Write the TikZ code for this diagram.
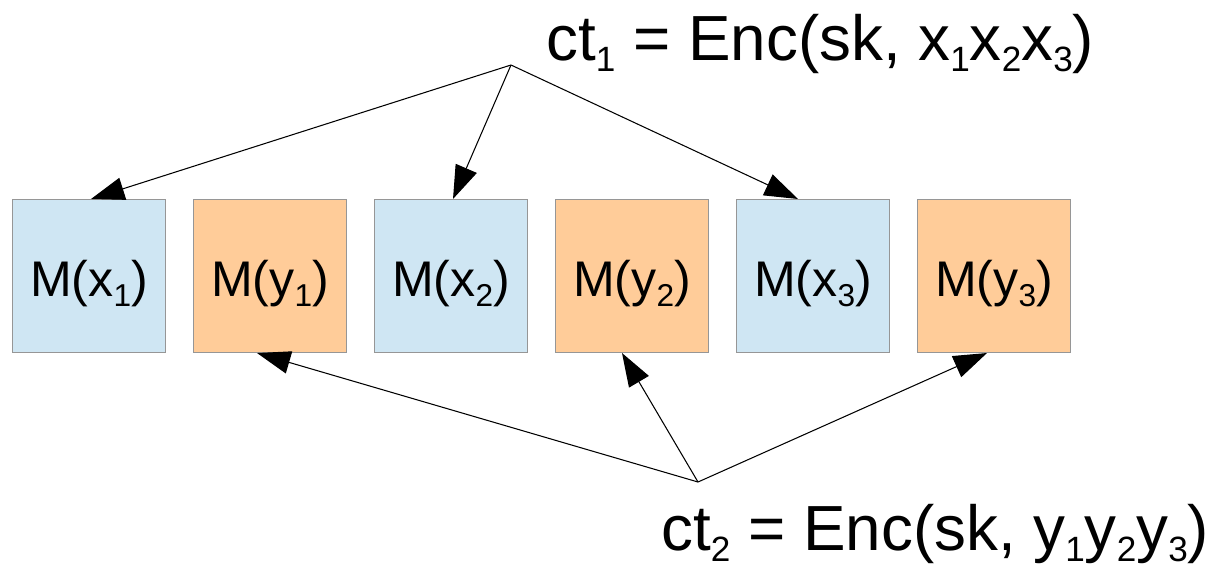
\documentclass[tikz,border=0pt]{standalone}
\usepackage{fontspec}
\setmainfont{Liberation Sans}
\usetikzlibrary{arrows.meta,calc}

\definecolor{xblue}{RGB}{207,230,243}
\definecolor{yorange}{RGB}{255,204,153}
\definecolor{boxline}{RGB}{150,150,150}

% lowered indices for the box labels and the ciphertext lines
\newcommand\boxsub[1]{\raisebox{-5.7pt}[0pt][0pt]{\fontsize{18}{18}\selectfont #1}}
\newcommand\ctsub[1]{\raisebox{-6.4pt}{\fontsize{20}{20}\selectfont #1}}

\tikzset{
  mbox/.style={draw=boxline,line width=0.6pt,minimum width=3.06cm,minimum height=3.06cm,
    inner sep=0pt,text height=24pt,text depth=0.2pt,font=\fontsize{28.5}{32}\selectfont},
  xbox/.style={mbox,fill=xblue},
  ybox/.style={mbox,fill=yorange},
  ctlabel/.style={anchor=base west,inner sep=0pt,font=\fontsize{36.3}{40}\selectfont},
  enc/.style={line width=0.6pt,-{Triangle[length=19pt,width=13pt]}}
}

\begin{document}
\begin{tikzpicture}[x=0.02cm,y=-0.02cm]
        \useasboundingbox (0,0) rectangle (1216,565);
        \node[xbox] (mx1) at (89,276)  {M(x\boxsub{1})};
        \node[ybox] (my1) at (270,276) {M(y\boxsub{1})};
        \node[xbox] (mx2) at (451,276) {M(x\boxsub{2})};
        \node[ybox] (my2) at (632,276) {M(y\boxsub{2})};
        \node[xbox] (mx3) at (813,276) {M(x\boxsub{3})};
        \node[ybox] (my3) at (994,276) {M(y\boxsub{3})};
        \coordinate (top) at (511,65);
        \coordinate (bot) at (698,482);
        \node[ctlabel] (ct1) at (546,60) {ct\ctsub{1} = Enc(sk, x\ctsub{1}x\ctsub{2}x\ctsub{3})};
        \node[ctlabel] (ct2) at (661,550) {ct\ctsub{2} = Enc(sk, y\ctsub{1}y\ctsub{2}y\ctsub{3})};
        \draw[enc] (top) -- ($(mx1.north)+(2,0)$);
        \draw[enc] (top) -- ($(mx2.north)+(2,0)$);
        \draw[enc] (top) -- ($(mx3.north)+(-15,0)$);
        \draw[enc] (bot) -- ($(my1.south)+(-13,0)$);
        \draw[enc] (bot) -- ($(my2.south)+(-10,0)$);
        \draw[enc] (bot) -- ($(my3.south)+(-7,0)$);
\end{tikzpicture}
\end{document}
